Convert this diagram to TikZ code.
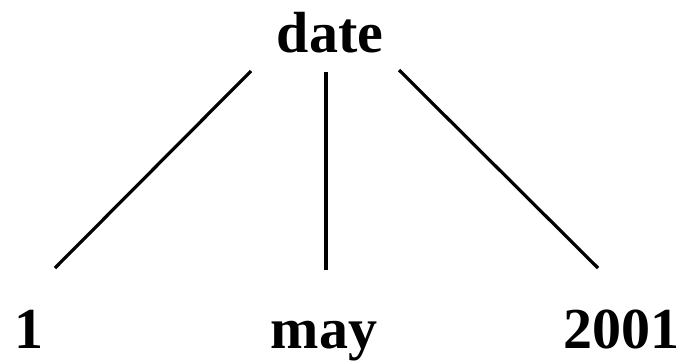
\documentclass[tikz,border=0pt]{standalone}
\usepackage{fontspec}
\setmainfont{Liberation Serif}
\begin{document}
\begin{tikzpicture}[x=1pt,y=-1pt,
  lbl/.style={anchor=base,inner sep=0pt,font=\fontsize{58}{60}\selectfont\bfseries},
  edge/.style={line width=3.2pt}]
\useasboundingbox (0,0) rectangle (684,362);
\node[lbl] (date) at (330,52) {date};
\node[lbl] (one) at (29,348) {1};
\node[lbl] (may) at (324,348) {may};
\node[lbl] (year) at (621,348) {2001};
\coordinate (dl) at (251,71);
\coordinate (dm) at (326,72);
\coordinate (dr) at (399,70);
\coordinate (ol) at (55,268);
\coordinate (om) at (326,270);
\coordinate (or) at (598,268);
\draw[edge] (dl) -- (ol);
\draw[edge] (dm) -- (om);
\draw[edge] (dr) -- (or);
\end{tikzpicture}
\end{document}
